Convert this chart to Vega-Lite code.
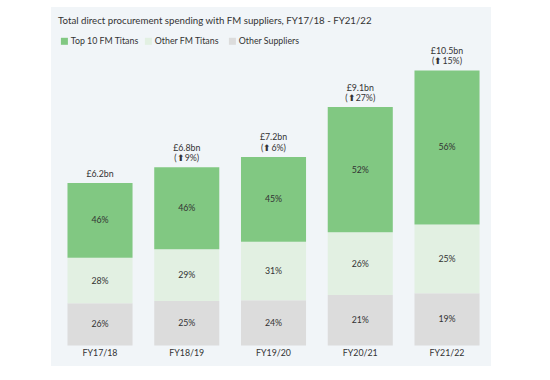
{
  "$schema": "https://vega.github.io/schema/vega-lite/v6.json",
  "width": 440,
  "height": 359,
  "autosize": "none",
  "padding": {"left": 51, "top": 7, "right": 59, "bottom": 14},
  "background": "white",
  "config": {
    "font": "Lato",
    "view": {"fill": "#f1f5f8", "stroke": null},
    "title": {"font": "Lato", "fontSize": 9.7, "fontWeight": "normal", "color": "#333333"}
  },
  "title": {
    "text": "Total direct procurement spending with FM suppliers, FY17/18 - FY21/22",
    "anchor": "start",
    "frame": "group",
    "dx": 7,
    "offset": -18.5
  },
  "datasets": {
    "segments": [
      {"year": "FY17/18", "segment": "Other Suppliers", "stackOrder": 1, "bn": 1.612, "pct": "26%"},
      {"year": "FY17/18", "segment": "Other FM Titans", "stackOrder": 2, "bn": 1.736, "pct": "28%"},
      {"year": "FY17/18", "segment": "Top 10 FM Titans", "stackOrder": 3, "bn": 2.852, "pct": "46%"},
      {"year": "FY18/19", "segment": "Other Suppliers", "stackOrder": 1, "bn": 1.7, "pct": "25%"},
      {"year": "FY18/19", "segment": "Other FM Titans", "stackOrder": 2, "bn": 1.972, "pct": "29%"},
      {"year": "FY18/19", "segment": "Top 10 FM Titans", "stackOrder": 3, "bn": 3.128, "pct": "46%"},
      {"year": "FY19/20", "segment": "Other Suppliers", "stackOrder": 1, "bn": 1.728, "pct": "24%"},
      {"year": "FY19/20", "segment": "Other FM Titans", "stackOrder": 2, "bn": 2.232, "pct": "31%"},
      {"year": "FY19/20", "segment": "Top 10 FM Titans", "stackOrder": 3, "bn": 3.24, "pct": "45%"},
      {"year": "FY20/21", "segment": "Other Suppliers", "stackOrder": 1, "bn": 1.93, "pct": "21%"},
      {"year": "FY20/21", "segment": "Other FM Titans", "stackOrder": 2, "bn": 2.39, "pct": "26%"},
      {"year": "FY20/21", "segment": "Top 10 FM Titans", "stackOrder": 3, "bn": 4.78, "pct": "52%"},
      {"year": "FY21/22", "segment": "Other Suppliers", "stackOrder": 1, "bn": 1.995, "pct": "19%"},
      {"year": "FY21/22", "segment": "Other FM Titans", "stackOrder": 2, "bn": 2.625, "pct": "25%"},
      {"year": "FY21/22", "segment": "Top 10 FM Titans", "stackOrder": 3, "bn": 5.88, "pct": "56%"}
    ],
    "totals": [
      {"year": "FY17/18", "total": 6.2, "amount": "£6.2bn", "change": null},
      {"year": "FY18/19", "total": 6.8, "amount": "£6.8bn", "change": "(⬆9%)"},
      {"year": "FY19/20", "total": 7.2, "amount": "£7.2bn", "change": "(⬆6%)"},
      {"year": "FY20/21", "total": 9.1, "amount": "£9.1bn", "change": "(⬆27%)"},
      {"year": "FY21/22", "total": 10.5, "amount": "£10.5bn", "change": "(⬆15%)"}
    ]
  },
  "encoding": {
    "x": {
      "field": "year",
      "type": "nominal",
      "sort": null,
      "scale": {"paddingInner": 0.25, "paddingOuter": 0.161, "align": 0.59},
      "axis": {
        "title": null,
        "orient": "bottom",
        "offset": -21,
        "domain": false,
        "ticks": false,
        "labelAngle": 0,
        "labelPadding": 3.5,
        "labelFont": "Lato",
        "labelFontSize": 8.8,
        "labelColor": "#333333"
      }
    }
  },
  "layer": [
    {
      "data": {"name": "segments"},
      "mark": {"type": "bar"},
      "encoding": {
        "y": {
          "field": "bn",
          "type": "quantitative",
          "stack": "zero",
          "scale": {"domain": [-0.78, 12.92], "nice": false, "zero": false},
          "axis": null
        },
        "color": {
          "field": "segment",
          "type": "nominal",
          "scale": {
            "domain": ["Top 10 FM Titans", "Other FM Titans", "Other Suppliers"],
            "range": ["#81c882", "#e2f0e2", "#dcdcdc"]
          },
          "legend": {
            "title": null,
            "orient": "none",
            "legendX": 9,
            "legendY": 29.5,
            "direction": "horizontal",
            "columns": 3,
            "gridAlign": "all",
            "columnPadding": 5,
            "symbolType": "square",
            "symbolSize": 49,
            "symbolStrokeWidth": 0,
            "labelOffset": 2,
            "labelFont": "Lato",
            "labelFontSize": 8.8,
            "labelColor": "#333333"
          }
        },
        "order": {"field": "stackOrder", "type": "quantitative"}
      }
    },
    {
      "data": {"name": "segments"},
      "mark": {"type": "text", "font": "Lato", "fontSize": 8.8, "color": "#333333", "baseline": "middle"},
      "encoding": {
        "y": {"field": "bn", "type": "quantitative", "stack": "zero", "bandPosition": 0.5},
        "detail": {"field": "segment"},
        "order": {"field": "stackOrder", "type": "quantitative"},
        "text": {"field": "pct"}
      }
    },
    {
      "data": {"name": "totals"},
      "transform": [{"filter": "datum.change == null"}],
      "mark": {"type": "text", "font": "Lato", "fontSize": 8.8, "color": "#333333", "baseline": "bottom", "dy": -4.2},
      "encoding": {
        "y": {"field": "total", "type": "quantitative"},
        "text": {"field": "amount"}
      }
    },
    {
      "data": {"name": "totals"},
      "transform": [{"filter": "datum.change != null"}],
      "mark": {"type": "text", "font": "Lato", "fontSize": 8.8, "color": "#333333", "baseline": "bottom", "dy": -14.5},
      "encoding": {
        "y": {"field": "total", "type": "quantitative"},
        "text": {"field": "amount"}
      }
    },
    {
      "data": {"name": "totals"},
      "transform": [{"filter": "datum.change != null"}],
      "mark": {"type": "text", "font": "Lato", "fontSize": 8.8, "color": "#333333", "baseline": "bottom", "dy": -4.2},
      "encoding": {
        "y": {"field": "total", "type": "quantitative"},
        "text": {"field": "change"}
      }
    }
  ]
}
